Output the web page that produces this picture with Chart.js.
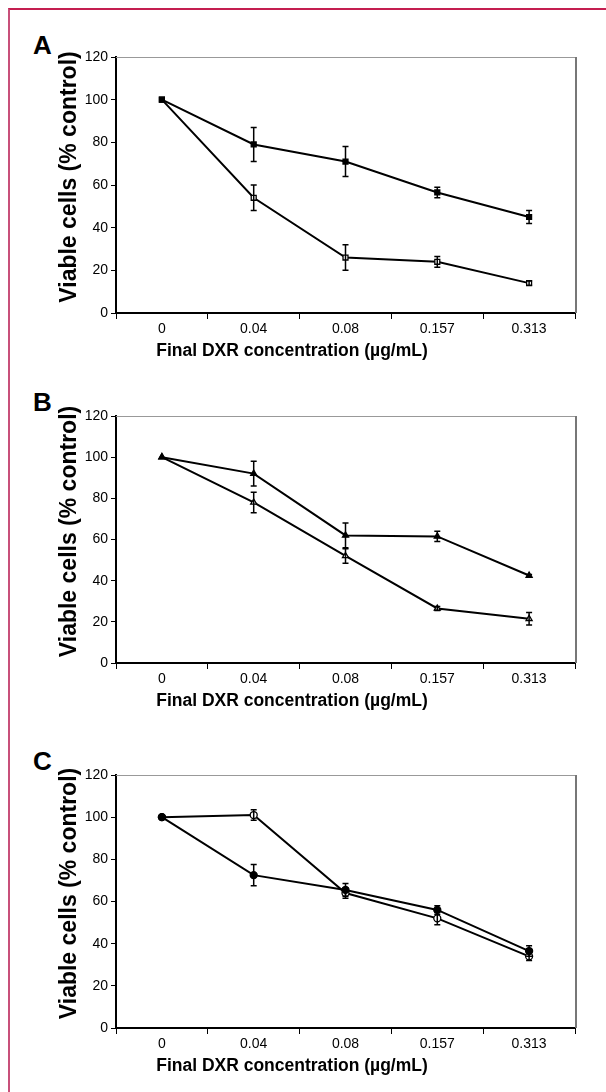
<!DOCTYPE html>
<html>
<head>
<meta charset="utf-8">
<script src="https://cdn.jsdelivr.net/npm/chart.js@4.4.0/dist/chart.umd.min.js"></script>
<style>
  body { margin: 0; background: #fff; font-family: 'Liberation Sans', Arial, sans-serif; }
  #frame { position: absolute; left: 8px; top: 8px; width: 620px; height: 1100px;
           border-top: 2px solid #c41e50; border-left: 2px solid #c8507a; }
  canvas { position: absolute; left: 0; }
  .letter { position: absolute; font: bold 26px 'Liberation Sans', Arial, sans-serif; color: #000; }
</style>
</head>
<body>
<div id="frame"></div>
<div class="letter" style="left:33px;top:30px">A</div>
<div class="letter" style="left:33px;top:387px">B</div>
<div class="letter" style="left:33px;top:746px">C</div>
<canvas id="chartA" style="top:0px"></canvas>
<canvas id="chartB" style="top:360px"></canvas>
<canvas id="chartC" style="top:720px"></canvas>
<script>
// Doses (x categories)
const doses = ['0', '0.04', '0.08', '0.157', '0.313'];

// Panel A (squares)
const aFilled = [100, 79, 71, 56.5, 45];
const aFilledErr = [0, 8, 7, 2.5, 3];
const aOpen = [100, 54, 26, 24, 14];
const aOpenErr = [0, 6, 6, 2.5, 1];

// Panel B (triangles)
const bFilled = [100, 92, 62, 61.5, 42.5];
const bFilledErr = [0, 6, 6, 2.5, 0.5];
const bOpen = [100, 78, 52, 26.5, 21.5];
const bOpenErr = [0, 5, 3.5, 1, 3];

// Panel C (circles)
const cOpen = [100, 101, 64, 52, 34];
const cOpenErr = [0, 2.5, 2.5, 3, 2];
const cFilled = [100, 72.5, 65.5, 56, 36.5];
const cFilledErr = [0, 5, 3, 2, 2.5];

const xTitle = 'Final DXR concentration (\u00b5g/mL)';
const yTitle = 'Viable cells (% control)';

// error bars drawn through the y scale
const errorBars = {
    id: 'errorBars',
    afterDatasetsDraw(chart) {
        const ctx = chart.ctx;
        const y = chart.scales.y;
        ctx.save();
        ctx.strokeStyle = '#000';
        ctx.lineWidth = 1.5;
        chart.data.datasets.forEach((ds, i) => {
            const meta = chart.getDatasetMeta(i);
            meta.data.forEach((pt, j) => {
                const e = ds.err[j];
                if (!e) return;
                const top = y.getPixelForValue(ds.data[j] + e);
                const bot = y.getPixelForValue(ds.data[j] - e);
                ctx.beginPath();
                ctx.moveTo(pt.x, top); ctx.lineTo(pt.x, bot);
                ctx.moveTo(pt.x - 3, top); ctx.lineTo(pt.x + 3, top);
                ctx.moveTo(pt.x - 3, bot); ctx.lineTo(pt.x + 3, bot);
                ctx.stroke();
            });
        });
        ctx.restore();
    }
};

// gray frame on top and right of plot area
const plotFrame = {
    id: 'plotFrame',
    beforeDatasetsDraw(chart) {
        const { ctx, chartArea: a } = chart;
        ctx.save();
        ctx.strokeStyle = '#999';
        ctx.lineWidth = 1;
        ctx.beginPath();
        ctx.moveTo(a.left, a.top + 0.5); ctx.lineTo(a.right, a.top + 0.5);
        ctx.stroke();
        ctx.strokeStyle = '#777';
        ctx.lineWidth = 2;
        ctx.beginPath();
        ctx.moveTo(a.right + 1, a.top); ctx.lineTo(a.right + 1, a.bottom);
        ctx.stroke();
        ctx.restore();
    }
};

// axis titles (the original ones sit a bit off-centre)
const axisTitles = {
    id: 'axisTitles',
    afterDraw(chart) {
        const { ctx, chartArea: a } = chart;
        ctx.save();
        ctx.fillStyle = '#000';
        ctx.textAlign = 'center';
        ctx.textBaseline = 'middle';
        ctx.font = 'bold 17.5px "Liberation Sans", Arial, sans-serif';
        ctx.fillText(xTitle, a.left + 176, a.bottom + 38);
        ctx.translate(70, (a.top + a.bottom) / 2 - 8);
        ctx.rotate(-Math.PI / 2);
        ctx.font = 'bold 23px "Liberation Sans", Arial, sans-serif';
        ctx.fillText(yTitle, 0, 0);
        ctx.restore();
    }
};

function makeChart(id, height, padTop, style, s1, e1, s2, e2) {
    const el = document.getElementById(id);
    el.width = 606;
    el.height = height;
    const common = {
        borderColor: '#000',
        borderWidth: 2,
        pointStyle: style,
        pointRadius: 3.5,
        pointBorderColor: '#000',
        pointBorderWidth: 1.3,
        tension: 0
    };
    return new Chart(el, {
        type: 'line',
        data: {
            labels: doses,
            datasets: [
                Object.assign({ data: s1, err: e1, pointBackgroundColor: '#000' }, common),
                Object.assign({ data: s2, err: e2, pointBackgroundColor: '#fff' }, common)
            ]
        },
        options: {
            responsive: false,
            animation: false,
            layout: { padding: { top: padTop, left: 56, right: 31, bottom: 0 } },
            plugins: { legend: { display: false }, tooltip: { enabled: false } },
            scales: {
                x: {
                    offset: true,
                    grid: { offset: true, drawOnChartArea: false, tickLength: 6, color: '#000', tickWidth: 1 },
                    border: { color: '#000', width: 2 },
                    ticks: { color: '#000', padding: 2, font: { family: 'Liberation Sans', size: 14 } },
                    afterFit(scale) { scale.height = 57; }
                },
                y: {
                    min: 0, max: 120,
                    grid: { drawOnChartArea: false, tickLength: 5, color: '#000', tickWidth: 1 },
                    border: { color: '#000', width: 2 },
                    ticks: { stepSize: 20, color: '#000', padding: 3, font: { family: 'Liberation Sans', size: 14 } },
                    afterFit(scale) { scale.width = 60; }
                }
            }
        },
        plugins: [plotFrame, errorBars, axisTitles]
    });
}

makeChart('chartA', 370, 57, 'rect', aFilled, aFilledErr, aOpen, aOpenErr);
makeChart('chartB', 360, 56, 'triangle', bFilled, bFilledErr, bOpen, bOpenErr);
makeChart('chartC', 365, 55, 'circle', cFilled, cFilledErr, cOpen, cOpenErr);
</script>
</body>
</html>
